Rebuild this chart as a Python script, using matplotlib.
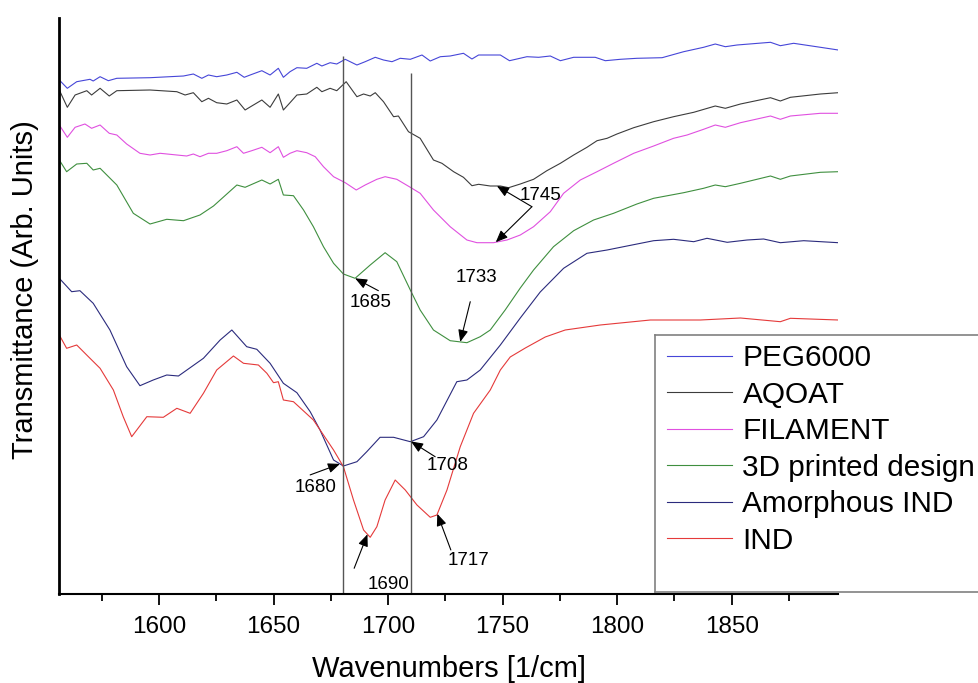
import numpy as np
import matplotlib
matplotlib.use("Agg")
import matplotlib.pyplot as plt
from matplotlib.lines import Line2D
from matplotlib.ticker import MultipleLocator

plt.rcParams['font.family'] = ['Liberation Sans', 'DejaVu Sans']

# ---------------- data (wavenumber [1/cm], transmittance in arbitrary units) ----------------
peg_wn = [1556.5, 1560.0, 1564.1, 1569.9, 1571.3, 1574.3, 1577.9, 1581.6, 1596.1, 1610.7, 1615.0, 1618.7,
          1621.6, 1625.2, 1629.6, 1634.0, 1637.2, 1639.8, 1644.9, 1648.5, 1652.1, 1654.3, 1657.2, 1660.2,
          1664.5, 1668.9, 1671.1, 1674.7, 1677.6, 1681.3, 1686.4, 1690.0, 1694.4, 1698.0, 1701.7, 1705.3,
          1709.7, 1714.8, 1718.4, 1722.8, 1727.1, 1732.9, 1736.6, 1739.5, 1749.0, 1753.0, 1760.6, 1765.7,
          1770.8, 1775.2, 1781.0, 1790.4, 1794.8, 1801.4, 1808.6, 1819.6, 1829.0, 1837.7, 1842.8, 1847.2,
          1852.3, 1866.9, 1871.2, 1877.0, 1888.7, 1896.5]
peg_t = [514, 505.7, 512.3, 514.7, 513, 517.3, 513.3, 515.7, 516.3, 518, 520, 515.7,
         519, 517.3, 519, 521.7, 516.7, 519, 523.3, 519, 525.7, 516.7, 522.3, 526.3,
         525.7, 530.7, 528, 531.3, 530, 534.7, 529, 532.3, 536.7, 534, 532.3, 535.7,
         534.7, 539, 533, 537.3, 538, 540.7, 535, 539, 539, 533.3, 537.3, 536.7,
         538, 533.3, 536.7, 536.7, 533.3, 534.7, 535.7, 536.3, 542.3, 546.7, 550, 547.3,
         549, 551.7, 548.3, 550.7, 546.7, 544]

aqoat_wn = [1556.5, 1560.0, 1563.4, 1568.5, 1570.6, 1574.3, 1578.3, 1581.6, 1596.1, 1607.8, 1611.4, 1615.0,
            1618.7, 1621.6, 1625.2, 1629.6, 1634.0, 1637.6, 1640.5, 1644.9, 1648.5, 1652.1, 1654.3, 1657.2,
            1660.2, 1664.5, 1668.9, 1671.1, 1674.7, 1677.6, 1681.7, 1686.4, 1689.3, 1692.2, 1694.4, 1698.0,
            1702.4, 1704.5, 1708.9, 1714.0, 1719.8, 1723.5, 1728.6, 1732.9, 1736.6, 1739.5, 1744.6, 1749.0,
            1752.6, 1757.7, 1763.5, 1769.3, 1775.2, 1781.0, 1786.8, 1791.2, 1795.6, 1799.9, 1807.2, 1815.9,
            1824.6, 1833.4, 1842.8, 1847.2, 1853.8, 1866.9, 1871.2, 1875.6, 1888.7, 1896.5]
aqoat_t = [504, 486.7, 499, 503.3, 499, 505.7, 498, 503.3, 504, 502.3, 499, 501.3,
           492.3, 495.7, 491.3, 490, 494, 484, 488, 494, 486.7, 500, 484, 491.3,
           499, 500, 506.7, 502.3, 505.7, 503.3, 512.3, 497.3, 500, 498, 501.3, 492.3,
           477.3, 478, 462.3, 455.7, 434, 430.7, 422.3, 416.7, 408.3, 409.7, 408, 408,
           406.3, 410, 414.7, 423.3, 430.7, 439, 446.7, 453.3, 455.7, 460, 466.3, 472.3,
           477.3, 481.7, 488, 485.7, 490, 496.3, 493, 496.7, 500, 501.3]

fil_wn = [1556.5, 1560.0, 1563.4, 1567.7, 1570.6, 1574.3, 1578.3, 1581.6, 1585.9, 1591.7, 1596.1, 1600.5,
          1607.8, 1612.1, 1615.0, 1617.9, 1621.6, 1625.2, 1629.6, 1634.0, 1636.9, 1640.5, 1644.9, 1648.5,
          1652.1, 1654.3, 1657.2, 1660.2, 1664.5, 1668.2, 1671.8, 1676.2, 1681.3, 1686.1, 1690.0, 1695.1,
          1698.7, 1703.8, 1709.7, 1714.0, 1719.8, 1727.1, 1734.4, 1738.8, 1746.0, 1751.9, 1757.7, 1763.5,
          1770.8, 1776.6, 1783.9, 1791.2, 1798.4, 1807.2, 1815.9, 1824.6, 1830.5, 1837.7, 1842.8, 1847.2,
          1853.8, 1866.9, 1871.2, 1875.6, 1888.7, 1896.5]
fil_t = [469, 456.7, 466.7, 470, 465.7, 469, 460.7, 459, 450, 440.7, 439, 440.7,
         439, 438, 440, 437.3, 440.7, 440.7, 443.3, 447.3, 440.7, 443.3, 446.7, 441.3,
         447.3, 436.7, 440.7, 443.3, 441.3, 437.3, 427.3, 417.3, 411.3, 404, 409, 414.7,
         417.3, 414.7, 406.7, 400.7, 384, 367.3, 354, 351.3, 351.3, 354, 359, 367.3,
         382.3, 400.7, 414, 422.3, 430.7, 440.7, 448, 455.7, 459, 464.7, 469, 466.7,
         471.3, 478, 474.7, 478, 480.7, 480.7]

d3_wn = [1556.5, 1559.7, 1564.1, 1568.5, 1571.3, 1574.3, 1581.6, 1588.8, 1596.1, 1603.4, 1610.7, 1617.9,
         1623.8, 1634.0, 1637.6, 1644.9, 1648.5, 1652.1, 1654.3, 1658.7, 1663.1, 1667.4, 1671.8, 1676.2,
         1680.5, 1685.6, 1692.2, 1698.7, 1703.8, 1709.7, 1714.0, 1719.8, 1727.1, 1734.4, 1740.2, 1744.6,
         1751.1, 1757.7, 1763.5, 1772.2, 1781.0, 1789.7, 1798.4, 1808.6, 1815.9, 1829.0, 1837.7, 1842.8,
         1847.2, 1853.8, 1866.9, 1871.2, 1875.6, 1888.7, 1896.5]
d3_t = [434, 422.3, 430, 430.7, 424, 425.7, 409, 380.7, 370, 374.7, 373.3, 379,
        388, 409, 406.7, 414, 410, 414.7, 399, 398.3, 384, 367.3, 347.3, 330.7,
        320, 315.7, 329, 341.3, 332.3, 304, 284, 264, 253.3, 251.3, 257.3, 264,
        284, 306, 324, 347.3, 363.3, 374, 380.7, 390, 395.7, 401.3, 405.7, 409,
        407.3, 410.7, 418, 414.7, 418, 421.7, 422.3]

amo_wn = [1556.5, 1561.9, 1565.5, 1571.3, 1578.6, 1585.9, 1591.7, 1597.5, 1603.4, 1608.5, 1619.4, 1626.7,
          1631.8, 1638.3, 1642.7, 1648.5, 1654.3, 1660.2, 1666.0, 1670.3, 1676.2, 1680.5, 1686.4, 1690.7,
          1696.5, 1702.4, 1709.7, 1715.5, 1721.3, 1730.0, 1734.4, 1740.2, 1749.0, 1757.7, 1766.4, 1776.6,
          1786.8, 1795.6, 1804.3, 1815.9, 1824.6, 1833.4, 1839.2, 1848.0, 1856.7, 1863.9, 1871.2, 1881.4,
          1896.5]
amo_t = [315.7, 302.3, 303.3, 290.7, 264, 227.3, 208.3, 214, 219, 218, 235.7, 254,
         264, 247.3, 244.7, 230.7, 210.7, 201.3, 182.3, 164, 134, 128, 132.3, 142.3,
         156.7, 156.7, 152.3, 157.3, 174, 212.3, 214, 224, 249, 276, 302, 325.7,
         340.7, 344, 348, 353.3, 354.7, 352.3, 355.7, 351.7, 354, 355, 351.3, 353.3,
         351.3]

ind_wn = [1556.5, 1559.7, 1564.1, 1569.2, 1574.3, 1580.1, 1584.4, 1588.1, 1594.7, 1601.9, 1607.8, 1613.6,
          1619.4, 1625.2, 1632.5, 1636.9, 1643.4, 1647.1, 1650.0, 1652.1, 1654.3, 1658.7, 1667.4, 1676.2,
          1680.5, 1684.9, 1689.3, 1692.2, 1695.1, 1698.7, 1703.1, 1707.5, 1712.6, 1718.4, 1721.3, 1725.7,
          1731.5, 1737.3, 1744.6, 1749.0, 1753.3, 1759.9, 1768.6, 1777.3, 1792.6, 1814.5, 1836.3, 1853.8,
          1871.2, 1875.6, 1896.5]
ind_t = [259, 245.7, 249, 237.3, 225.7, 204, 177.3, 157.3, 177.3, 176.7, 185.7, 180.7,
         200.7, 224, 238, 230.7, 229, 220.7, 211.3, 212.3, 194, 192.3, 174, 144,
         127.3, 94, 64, 56.7, 67.3, 94, 114, 104, 89, 76.7, 79, 104,
         147.3, 180.7, 204, 224, 237, 246, 257, 264, 269, 274, 274, 276,
         272.3, 275.7, 274]

labels = ['PEG6000', 'AQOAT', 'FILAMENT', '3D printed design', 'Amorphous IND', 'IND']
colors = ['#4646d8', '#3c3c3c', '#e050e0', '#3f8f3f', '#2b2b7d', '#e53a3a']
xs = [peg_wn, aqoat_wn, fil_wn, d3_wn, amo_wn, ind_wn]
ys = [peg_t, aqoat_t, fil_t, d3_t, amo_t, ind_t]

tick_major = [1600, 1650, 1700, 1750, 1800, 1850]

# reference vertical lines (wavenumber, top of line)
ref_wn = [1680.5, 1710.0]
ref_top = [538, 521]

# peak annotations: label, series index, tip wavenumber, arrow tail offset (px), text offset (px)
annots = [
    ('1745', 1, 1747.5, (35, 20.7), (44, 9)),
    ('', 2, 1747.0, (36.1, -35.5), None),
    ('1733', 3, 1731.5, (10, -40.2), (16, -64.4)),
    ('1685', 3, 1685.6, (23.3, 12.4), (15.8, 24.2)),
    ('1680', 4, 1679.0, (-29.8, 11), (-24, 23.5)),
    ('1708', 4, 1710.0, (24.2, 15.3), (36.7, 24.4)),
    ('1690', 5, 1691.0, (-13.3, 34), (21, 49.9)),
    ('1717', 5, 1721.5, (13.5, 36.1), (31.1, 46.9)),
]

# ---------------- figure ----------------
W, H = 979, 683
fig = plt.figure(figsize=(W / 100, H / 100), dpi=100)
ax = fig.add_axes([59.3 / W, 89 / H, 779 / W, 576 / H])

handles = []
for x, y, c, lab in zip(xs, ys, colors, labels):
    h, = ax.plot(x, y, color=c, lw=0.8, label=lab)
    handles.append(h)

ax.vlines(ref_wn, 0, ref_top, colors='#555555', lw=1.0)

px2pt = 0.72
arrow_kw = dict(arrowstyle='-|>,head_length=0.6,head_width=0.25', color='black',
                lw=0.8, shrinkA=0, shrinkB=0, mutation_scale=12)
for lab, si, wn, tail, txt in annots:
    ty = float(np.interp(wn, xs[si], ys[si]))
    ax.annotate('', xy=(wn, ty), xytext=(tail[0] * px2pt, -tail[1] * px2pt),
                textcoords='offset points', arrowprops=arrow_kw)
    if txt is not None:
        ax.annotate(lab, xy=(wn, ty), xytext=(txt[0] * px2pt, -txt[1] * px2pt),
                    textcoords='offset points', ha='center', va='center', fontsize=13.5)

ax.set_xlim(1556.5, 1896.5)
ax.set_ylim(0, 576)
ax.spines['top'].set_visible(False)
ax.spines['right'].set_visible(False)
ax.spines['left'].set_linewidth(2.0)
ax.spines['bottom'].set_linewidth(1.5)
ax.set_yticks([])
ax.set_xticks(tick_major)
ax.xaxis.set_minor_locator(MultipleLocator(25))
ax.tick_params(axis='x', which='major', direction='out', length=8, width=1.3,
               labelsize=17.5, pad=8)
ax.tick_params(axis='x', which='minor', direction='out', length=4.7, width=1.3)

ax.set_xlabel('Wavenumbers [1/cm]', fontsize=21)
ax.xaxis.set_label_coords(0.5, (594 - 669) / 576)
ax.xaxis.label.set_va('center')
ax.set_ylabel('Transmittance (Arb. Units)', fontsize=21)
ax.yaxis.set_label_coords((25 - 59.3) / 779, (594 - 290) / 576)
ax.yaxis.label.set_va('center')

# legend frame: two horizontal edges and a left edge, running off the figure's right side
fl, ft, fb = 655 / W, (H - 335) / H, (H - 592) / H
fr = 1.05
for xx, yy in (([fl, fr], [ft, ft]), ([fl, fr], [fb, fb]), ([fl, fl], [ft, fb])):
    fig.add_artist(Line2D(xx, yy, transform=fig.transFigure, color='#808080', lw=1.2))
ax.legend(handles, labels, loc='upper left', bbox_to_anchor=(667 / W, (H - 344) / H),
          bbox_transform=fig.transFigure, frameon=False, fontsize=21.4,
          handlelength=2.18, handletextpad=0.36, labelspacing=0.286,
          borderpad=0, borderaxespad=0)

fig.savefig('out.png', dpi=100)
